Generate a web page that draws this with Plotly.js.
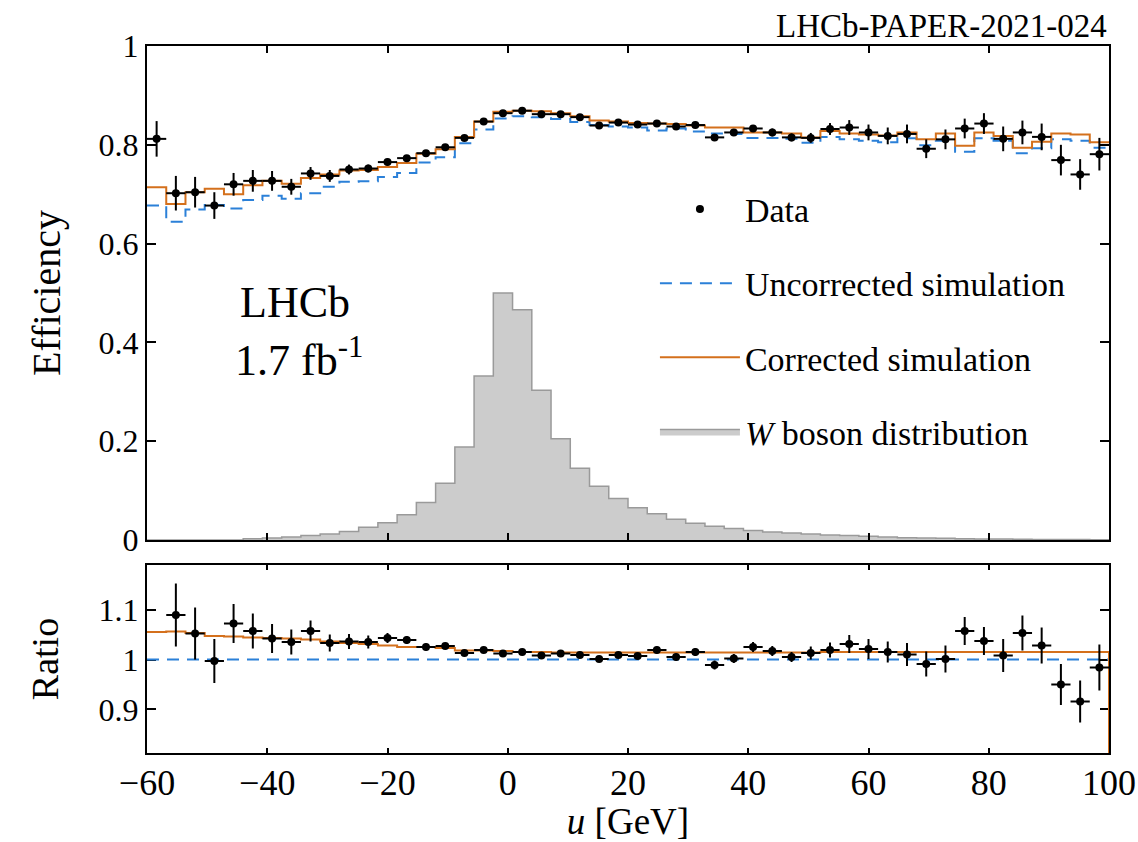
<!DOCTYPE html>
<html>
<head>
<meta charset="utf-8">
<script src="https://cdn.plot.ly/plotly-3.0.1.min.js"></script>
<style>
  html, body { margin: 0; padding: 0; background: #ffffff; }
  #chart { width: 1138px; height: 842px; }
</style>
</head>
<body>
<div id="chart"></div>
<script>
// ---- data ----
const binEdges = [-60, -56.8, -53.6, -50.4, -47.2, -44, -40.8, -37.6, -34.4, -31.2, -28, -24.8, -21.6, -18.4, -15.2, -12, -8.8, -5.6, -2.4, 0.8, 4, 7.2, 10.4, 13.6, 16.8, 20, 23.2, 26.4, 29.6, 32.8, 36, 39.2, 42.4, 45.6, 48.8, 52, 55.2, 58.4, 61.6, 64.8, 68, 71.2, 74.4, 77.6, 80.8, 84, 87.2, 90.4, 93.6, 96.8, 100];

const dataEff = [0.812, 0.702, 0.704, 0.677, 0.720, 0.727, 0.727, 0.715, 0.742, 0.737, 0.750, 0.752, 0.765, 0.773, 0.783, 0.795, 0.814,
  0.847, 0.864, 0.869, 0.862, 0.862, 0.856, 0.839, 0.845, 0.841, 0.843, 0.837, 0.840, 0.815, 0.825, 0.833,
  0.825, 0.815, 0.814, 0.832, 0.835, 0.825, 0.818, 0.822, 0.792, 0.811, 0.833, 0.843, 0.812, 0.825, 0.816, 0.769, 0.740, 0.781];
const dataEffErr = [0.036, 0.035, 0.031, 0.027, 0.023, 0.022, 0.020, 0.016, 0.013, 0.012, 0.010, 0.008, 0.007, 0.006, 0.005, 0.005, 0.004,
  0.004, 0.004, 0.004, 0.004, 0.004, 0.004, 0.004, 0.005, 0.005, 0.005, 0.005, 0.006, 0.006, 0.006, 0.007,
  0.008, 0.008, 0.010, 0.012, 0.015, 0.016, 0.017, 0.019, 0.019, 0.020, 0.020, 0.021, 0.025, 0.024, 0.027, 0.031, 0.031, 0.033];

const uncorrectedEff = [0.677, 0.644, 0.669, 0.678, 0.671, 0.688, 0.697, 0.691, 0.702, 0.715, 0.725, 0.726, 0.735, 0.743, 0.764, 0.775, 0.803,
  0.831, 0.853, 0.858, 0.856, 0.852, 0.846, 0.840, 0.837, 0.835, 0.829, 0.833, 0.827, 0.823, 0.822, 0.814,
  0.814, 0.812, 0.804, 0.816, 0.811, 0.808, 0.805, 0.813, 0.799, 0.808, 0.786, 0.813, 0.808, 0.783, 0.793, 0.811, 0.808, 0.794];

const correctedEff = [0.714, 0.680, 0.704, 0.711, 0.700, 0.718, 0.727, 0.721, 0.733, 0.740, 0.748, 0.749, 0.755, 0.763, 0.782, 0.791, 0.816,
  0.847, 0.867, 0.869, 0.868, 0.864, 0.858, 0.849, 0.847, 0.844, 0.843, 0.842, 0.839, 0.835, 0.835, 0.825,
  0.825, 0.823, 0.815, 0.828, 0.823, 0.821, 0.819, 0.825, 0.811, 0.823, 0.798, 0.825, 0.818, 0.794, 0.806, 0.823, 0.821, 0.805];

const wBoson = [0, 0, 0, 0, 0, 0.0026, 0.004, 0.006, 0.009, 0.012, 0.017, 0.026, 0.035, 0.051, 0.076, 0.115, 0.188,
  0.332, 0.500, 0.466, 0.303, 0.205, 0.145, 0.109, 0.084, 0.065,
  0.053, 0.042, 0.034, 0.028, 0.023, 0.019, 0.016, 0.014, 0.012, 0.010, 0.009, 0.0073, 0.006, 0.0047,
  0.004, 0.0033, 0.0027, 0.0022, 0.0018, 0.0015, 0.0012, 0.001, 0.0008, 0.0006];

const dataRatio = [null, 1.089, 1.052, 0.997, 1.072, 1.057, 1.042, 1.035, 1.057, 1.033, 1.036, 1.035, 1.043, 1.039, 1.025, 1.027, 1.013,
  1.019, 1.012, 1.015, 1.008, 1.012, 1.009, 1.001, 1.009, 1.007, 1.019, 1.005, 1.015, 0.989, 1.002, 1.025,
  1.017, 1.005, 1.013, 1.019, 1.031, 1.021, 1.015, 1.010, 0.991, 1.001, 1.057, 1.037, 1.008, 1.053, 1.028, 0.950, 0.916, 0.984];
const dataRatioErr = [null, 0.063, 0.052, 0.044, 0.039, 0.035, 0.029, 0.025, 0.021, 0.017, 0.015, 0.013, 0.010, 0.008, 0.007, 0.006, 0.005,
  0.005, 0.005, 0.005, 0.005, 0.005, 0.005, 0.005, 0.006, 0.006, 0.007, 0.007, 0.008, 0.009, 0.009, 0.010,
  0.010, 0.010, 0.013, 0.015, 0.018, 0.020, 0.021, 0.023, 0.025, 0.027, 0.028, 0.028, 0.033, 0.035, 0.036, 0.041, 0.042, 0.046];

const correctedRatio = [1.055, 1.056, 1.053, 1.047, 1.046, 1.044, 1.043, 1.042, 1.040, 1.036, 1.033, 1.031, 1.028, 1.025, 1.025, 1.023, 1.018,
  1.018, 1.017, 1.015, 1.015, 1.014, 1.014, 1.014, 1.014, 1.014, 1.014, 1.014, 1.014, 1.014, 1.014, 1.014,
  1.014, 1.014, 1.014, 1.015, 1.015, 1.015, 1.015, 1.015, 1.015, 1.015, 1.015, 1.015, 1.015, 1.015, 1.015, 1.015, 1.015, 1.015];
const uncorrectedRatio = [1, 1, 1, 1, 1, 1, 1, 1, 1, 1, 1, 1, 1, 1, 1, 1, 1, 1, 1, 1, 1, 1, 1, 1, 1,
  1, 1, 1, 1, 1, 1, 1, 1, 1, 1, 1, 1, 1, 1, 1, 1, 1, 1, 1, 1, 1, 1, 1, 1, 1];

const xTickVals = [-60, -40, -20, 0, 20, 40, 60, 80, 100];
const effTickVals = [0, 0.2, 0.4, 0.6, 0.8, 1];
const ratioTickVals = [0.9, 1, 1.1];

// ---- helpers: bin centres and step outlines from the bin edges ----
const binCenters = dataEff.map((_, i) => (binEdges[i] + binEdges[i + 1]) / 2);
const binHalf = (binEdges[1] - binEdges[0]) / 2;
const stepY = arr => arr.concat([arr[arr.length - 1]]);

const SERIF = '"Liberation Serif", "Times New Roman", serif';
const ORANGE = '#d4701c';
const BLUE = '#2b80d8';

const traces = [
  { // W boson distribution (filled step histogram)
    type: 'scatter', mode: 'lines', x: binEdges, y: stepY(wBoson),
    line: { shape: 'hv', color: '#9a9a9a', width: 1.5 },
    fill: 'tozeroy', fillcolor: '#cccccc',
    name: '<i>W</i> boson distribution', legendrank: 4, legendgroup: 'w',
    xaxis: 'x', yaxis: 'y', hoverinfo: 'skip'
  },
  { // Uncorrected simulation
    type: 'scatter', mode: 'lines', x: binEdges, y: stepY(uncorrectedEff),
    line: { shape: 'hv', color: BLUE, width: 2, dash: '12px,8px' },
    name: 'Uncorrected simulation', legendrank: 2, legendgroup: 'u',
    xaxis: 'x', yaxis: 'y'
  },
  { // Corrected simulation
    type: 'scatter', mode: 'lines', x: binEdges, y: stepY(correctedEff),
    line: { shape: 'hv', color: ORANGE, width: 2 },
    name: 'Corrected simulation', legendrank: 3, legendgroup: 'c',
    xaxis: 'x', yaxis: 'y'
  },
  { // Data
    type: 'scatter', mode: 'markers', x: binCenters, y: dataEff,
    marker: { color: '#000000', size: 8 },
    error_y: { type: 'data', array: dataEffErr, visible: true, color: '#000000', thickness: 2, width: 0 },
    error_x: { type: 'constant', value: binHalf, visible: true, color: '#000000', thickness: 2, width: 0 },
    name: 'Data', legendrank: 1, legendgroup: 'd',
    xaxis: 'x', yaxis: 'y'
  },
  // ---- ratio panel ----
  {
    type: 'scatter', mode: 'lines', x: binEdges, y: stepY(uncorrectedRatio),
    line: { shape: 'hv', color: BLUE, width: 2, dash: '12px,8px' },
    showlegend: false, xaxis: 'x2', yaxis: 'y2'
  },
  {
    type: 'scatter', mode: 'lines', x: binEdges.concat([binEdges[binEdges.length - 1]]),
    y: stepY(correctedRatio).concat([0]),
    line: { shape: 'hv', color: ORANGE, width: 2 },
    showlegend: false, xaxis: 'x2', yaxis: 'y2'
  },
  {
    type: 'scatter', mode: 'markers', x: binCenters, y: dataRatio,
    marker: { color: '#000000', size: 8 },
    error_y: { type: 'data', array: dataRatioErr, visible: true, color: '#000000', thickness: 2, width: 0 },
    error_x: { type: 'constant', value: binHalf, visible: true, color: '#000000', thickness: 2, width: 0 },
    showlegend: false, xaxis: 'x2', yaxis: 'y2'
  }
];

const axisCommon = {
  showline: true, linecolor: '#000000', linewidth: 2, mirror: 'ticks',
  ticks: 'inside', tickcolor: '#000000', tickwidth: 2,
  showgrid: false, zeroline: false, fixedrange: true
};

const layout = {
  width: 1138, height: 842,
  margin: { l: 147, r: 29, t: 46, b: 89 },
  paper_bgcolor: '#ffffff', plot_bgcolor: '#ffffff',
  font: { family: SERIF, color: '#000000' },
  showlegend: true,
  legend: {
    x: 0.528, y: 0.81, xanchor: 'left', yanchor: 'top',
    bgcolor: 'rgba(0,0,0,0)', borderwidth: 0,
    font: { family: SERIF, size: 34, color: '#000000' },
    tracegroupgap: 27, itemwidth: 80
  },
  xaxis: Object.assign({}, axisCommon, {
    domain: [0, 1], range: [-60, 100], anchor: 'y',
    tickvals: xTickVals, showticklabels: false, ticklen: 7, matches: 'x2'
  }),
  yaxis: Object.assign({}, axisCommon, {
    domain: [0.3013, 1], range: [0, 1], anchor: 'x',
    tickvals: effTickVals, ticklen: 9,
    tickfont: { family: SERIF, size: 32 },
    title: { text: 'Efficiency', font: { family: SERIF, size: 40 }, standoff: 26 }
  }),
  xaxis2: Object.assign({}, axisCommon, {
    domain: [0, 1], range: [-60, 100], anchor: 'y2',
    tickvals: xTickVals, ticklen: 5,
    tickfont: { family: SERIF, size: 36 },
    ticklabelstandoff: -3,
    title: { text: '<i>u</i> [GeV]', font: { family: SERIF, size: 37 }, standoff: 12 },
    layer: 'below traces'
  }),
  yaxis2: Object.assign({}, axisCommon, {
    domain: [0, 0.2659], range: [0.813, 1.189], anchor: 'x2',
    tickvals: ratioTickVals, ticklen: 9,
    tickfont: { family: SERIF, size: 32 },
    title: { text: 'Ratio', font: { family: SERIF, size: 38 }, standoff: 28 },
    layer: 'below traces'
  }),
  annotations: [
    { xref: 'paper', yref: 'paper', x: 1, y: 1, xanchor: 'right', yanchor: 'bottom', yshift: 0,
      text: 'LHCb-PAPER-2021-024', showarrow: false, font: { family: SERIF, size: 33 } },
    { xref: 'paper', yref: 'paper', x: 0.154, y: 0.6365, xanchor: 'center', yanchor: 'middle',
      text: 'LHCb', showarrow: false, font: { family: SERIF, size: 44 } },
    { xref: 'paper', yref: 'paper', x: 0.158, y: 0.560, xanchor: 'center', yanchor: 'middle',
      text: '1.7 fb<sup>-1</sup>', showarrow: false, font: { family: SERIF, size: 44 } }
  ]
};

Plotly.newPlot('chart', traces, layout, { displayModeBar: false, staticPlot: true });
</script>
</body>
</html>
